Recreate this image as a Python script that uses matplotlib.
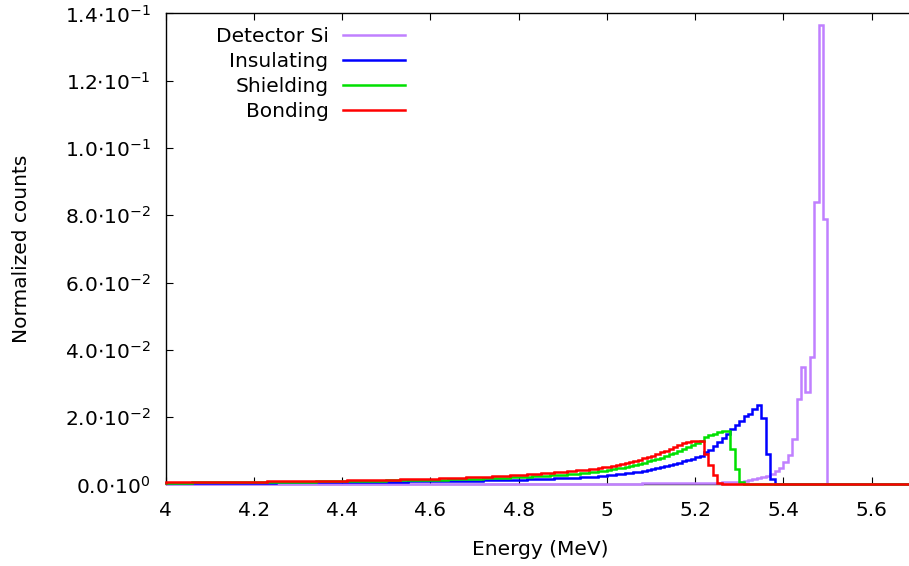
import numpy as np
import matplotlib
matplotlib.use("Agg")
import matplotlib.pyplot as plt
from matplotlib.ticker import FuncFormatter, MultipleLocator

E_MIN = 4.0      # MeV, lower edge of first bin
BIN_WIDTH = 0.01 # MeV
SCALE = 1e-4     # values below are stored in units of 1e-4

# normalized counts per bin, bins start at 4.00, 4.01, ... 5.69 MeV
detector_si = (
    [0] * 70
    + [1, 1, 1, 1, 1, 1, 1, 1, 1, 1]
    + [1, 1, 1, 1, 1, 1, 1, 1, 1, 1]
    + [1, 1, 1, 1, 1, 2, 2, 2, 2, 2]
    + [2, 2, 2, 2, 2, 2, 2, 2, 3, 3]
    + [3, 3, 3, 3, 3, 3, 3, 3, 3, 3]
    + [3, 4, 4, 4, 5, 5, 6, 6, 7, 8]
    + [8, 10, 12, 15, 18, 21, 26, 32, 40, 50]
    + [66, 89, 134, 253, 349, 274, 378, 839, 1365, 788]
    + [0] * 20
)

insulating = (
    [4, 4, 4, 4, 4, 4, 4, 4, 4, 4]
    + [5, 5, 5, 5, 5, 5, 5, 5, 5, 5]
    + [5, 5, 5, 5, 5, 6, 6, 6, 6, 6]
    + [6, 6, 6, 6, 6, 6, 6, 6, 7, 7]
    + [7, 7, 7, 7, 7, 7, 7, 8, 8, 8]
    + [8, 8, 8, 8, 8, 9, 9, 9, 9, 9]
    + [9, 9, 10, 10, 10, 10, 10, 11, 11, 11]
    + [11, 11, 12, 12, 12, 12, 13, 13, 13, 14]
    + [14, 14, 15, 15, 16, 16, 17, 17, 18, 18]
    + [19, 19, 20, 20, 21, 22, 22, 23, 24, 25]
    + [27, 28, 30, 31, 33, 34, 36, 38, 40, 42]
    + [46, 49, 52, 55, 58, 61, 65, 69, 73, 77]
    + [81, 86, 96, 104, 114, 126, 138, 151, 166, 178]
    + [190, 203, 210, 225, 237, 197, 92, 17, 0, 0]
    + [0] * 30
)

shielding = (
    [5, 5, 5, 5, 5, 5, 6, 6, 6, 6]
    + [6, 6, 6, 6, 6, 6, 6, 7, 7, 7]
    + [7, 7, 7, 7, 7, 7, 8, 8, 8, 8]
    + [8, 8, 8, 8, 9, 9, 9, 9, 9, 9]
    + [10, 10, 10, 10, 10, 11, 11, 11, 11, 11]
    + [12, 12, 12, 12, 12, 13, 13, 13, 13, 13]
    + [13, 14, 14, 14, 15, 15, 15, 16, 16, 17]
    + [17, 17, 18, 18, 19, 19, 20, 20, 21, 21]
    + [22, 22, 23, 24, 24, 25, 26, 27, 28, 28]
    + [29, 30, 31, 32, 33, 35, 36, 37, 39, 41]
    + [43, 45, 48, 50, 53, 56, 59, 62, 65, 69]
    + [72, 76, 80, 85, 90, 95, 100, 105, 110, 116]
    + [122, 130, 140, 146, 151, 156, 159, 160, 106, 45]
    + [6, 0, 0, 0, 0, 0, 0, 0, 0, 0]
    + [0] * 30
)

bonding = (
    [6, 6, 6, 6, 6, 7, 7, 7, 7, 7]
    + [7, 7, 7, 7, 8, 8, 8, 8, 8, 8]
    + [8, 8, 8, 9, 9, 9, 9, 9, 9, 9]
    + [10, 10, 10, 10, 10, 10, 11, 11, 11, 11]
    + [11, 12, 12, 12, 12, 13, 13, 13, 13, 14]
    + [14, 14, 14, 15, 15, 15, 16, 16, 16, 17]
    + [17, 17, 18, 18, 19, 19, 20, 20, 21, 21]
    + [22, 22, 23, 23, 24, 25, 25, 26, 27, 28]
    + [29, 29, 30, 31, 32, 33, 34, 35, 36, 37]
    + [38, 39, 40, 42, 43, 44, 46, 47, 49, 51]
    + [53, 55, 58, 61, 64, 67, 71, 74, 78, 82]
    + [86, 91, 96, 101, 106, 111, 116, 122, 126, 129]
    + [130, 128, 92, 57, 27, 4, 0, 0, 0, 0]
    + [0] * 40
)

labels = ["Detector Si", "Insulating", "Shielding", "Bonding"]
colors = ["#c080ff", "#0000ff", "#00e000", "#ff0000"]

plt.rcParams["font.family"] = ["DejaVu Sans"]
plt.rcParams["font.size"] = 14.5
plt.rcParams["mathtext.fontset"] = "dejavusans"


def dot_sci(v, pos):
    if abs(v) < 1e-12:
        return r"$\mathregular{0.0{\cdot}10^{0}}$"
    exp = int(np.floor(np.log10(abs(v)) + 1e-9))
    mant = v / 10 ** exp
    return rf"$\mathregular{{{mant:.1f}{{\cdot}}10^{{{exp}}}}}$"


fig = plt.figure(figsize=(9.09, 5.66), dpi=100)
ax = fig.add_axes([0.1823, 0.144, 0.8251, 0.8322])

edges = E_MIN + BIN_WIDTH * np.arange(len(detector_si) + 1)
for vals, lab, col in zip([detector_si, insulating, shielding, bonding], labels, colors):
    # drawn above the spines so the zero segments stay visible on the axis
    ax.stairs(np.array(vals) * SCALE, edges, color=col, lw=1.8, label=lab,
              zorder=3, clip_on=False)

ax.set_xlim(4.0, 5.7)
ax.set_ylim(0, 0.14)
ax.xaxis.set_major_locator(MultipleLocator(0.2))
ax.yaxis.set_major_locator(MultipleLocator(0.02))
ax.xaxis.set_major_formatter(FuncFormatter(lambda v, p: f"{v:g}"))
ax.yaxis.set_major_formatter(FuncFormatter(dot_sci))

ax.tick_params(direction="in", length=5, width=0.8, top=True, right=True)
ax.tick_params(axis="x", pad=12)
ax.tick_params(axis="y", pad=11)
for sp in ax.spines.values():
    sp.set_linewidth(1.0)

ax.set_xlabel("Energy (MeV)")
ax.set_ylabel("Normalized counts")
ax.xaxis.set_label_coords(0.5, -0.117)
ax.yaxis.set_label_coords(-0.18, 0.5)

ax.legend(loc="upper right", bbox_to_anchor=(0.319, 0.972), frameon=False,
          markerfirst=False, handlelength=3.1, handletextpad=0.7,
          labelspacing=0.3, borderaxespad=0, borderpad=0)

fig.savefig("out.png", dpi=100)
